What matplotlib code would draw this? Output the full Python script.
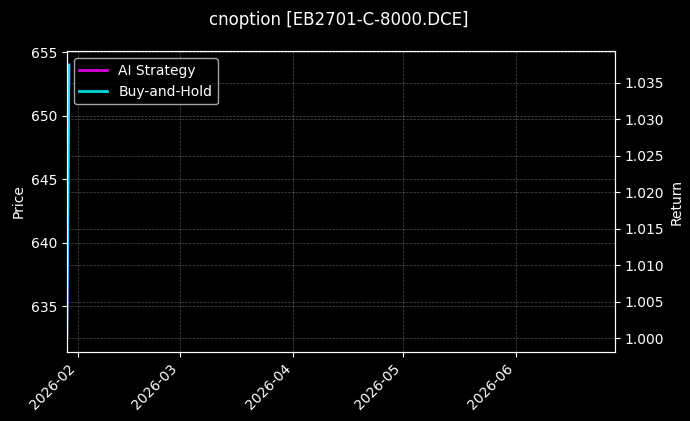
import numpy as np
import pandas as pd
import matplotlib
matplotlib.use("Agg")
import matplotlib.pyplot as plt
import matplotlib.dates as mdates

plt.style.use("dark_background")

# data
dates = pd.to_datetime(["2026-01-29 00:00", "2026-01-29 14:00"])
price = [632.5, 654.0]
ai_strategy = [1.0, 1.0374]
buy_hold = [1.0, 1.0374]
title = "cnoption [EB2701-C-8000.DCE]"

fig = plt.figure(figsize=(6.9, 4.21), dpi=100)
ax1 = fig.add_axes([0.0968, 0.1646, 0.891 - 0.0968, 0.878 - 0.1646])

ax1.plot(dates, price, color="white", linewidth=1.0, alpha=0.6, label="Price")
ax1.set_ylabel("Price")
ax1.grid(True, linestyle="--", linewidth=0.5, alpha=0.3)

ax2 = ax1.twinx()
ax2.plot(dates, ai_strategy, color="magenta", linewidth=2, alpha=0.85, label="AI Strategy")
ax2.plot(dates, buy_hold, color="cyan", linewidth=2, alpha=0.85, label="Buy-and-Hold")
ax2.set_ylabel("Return")
ax2.yaxis.grid(True, linestyle="--", linewidth=0.5, alpha=0.3)
ax2.legend(loc="upper left")

ax1.set_xlim(dates[0], dates[0] + pd.Timedelta(days=150))
ax1.xaxis.set_major_locator(mdates.MonthLocator())
ax1.xaxis.set_major_formatter(mdates.DateFormatter("%Y-%m"))
plt.setp(ax1.get_xticklabels(), rotation=45, ha="right")

fig.suptitle(title, x=0.4906, y=0.975, fontsize=12)

fig.savefig("out.png", dpi=100)
